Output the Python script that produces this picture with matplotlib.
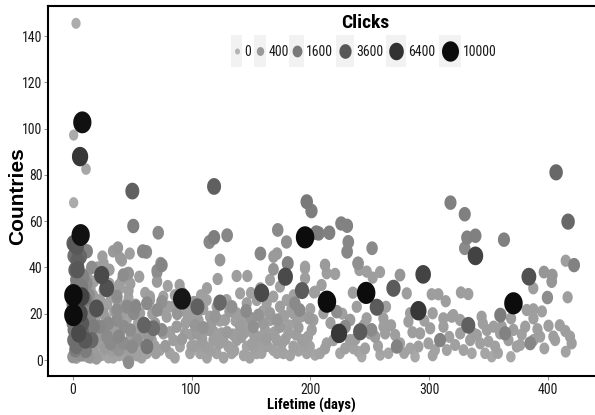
import numpy as np
import matplotlib
matplotlib.use("Agg")
import matplotlib.pyplot as plt
from matplotlib.path import Path
from matplotlib.patches import Rectangle
from matplotlib import font_manager as fm
from matplotlib.font_manager import FontProperties

# ---------------- data ----------------
# highlighted / larger points
days_hi = [2.8, 8.1, 0.8, 6.2, 11.2, 50.2, 0.8, 119, 51, 72, 6.7, 130, 119, 115, 3.4, 0.6, 12, 59, 62, 75,
           71, 4, 24.4, 28.6, 4, 42.6, 47, 0.6, 0.6, 7.6, 6.2, 20, 92, 105, 124, 134, 146, 158, 159, 172.6,
           180, 181, 179, 193, 195.6, 197, 201, 187, 191, 205, 406.9, 417, 422, 399.6, 384, 371, 363, 360, 339, 339,
           332, 330, 330, 318, 333, 295, 291, 270, 247, 256, 240, 252, 232, 231, 226, 231, 214, 224.2, 242, 207,
           216, 60, 68, 62.5, 5, 10.6]
countries_hi = [145.5, 102.7, 97.2, 87.9, 82.5, 73.0, 68.0, 75, 57.9, 55, 54, 53.9, 53, 51, 49, 50.4, 47, 47, 46.7, 41,
                38.6, 43, 36.7, 31, 39, 36.7, 37.5, 28, 19.4, 27.4, 20.2, 22.3, 26.4, 23, 24.8, 23, 21.2, 46, 29, 56.2,
                51, 41.8, 36, 30, 53, 68.4, 64.4, 24.5, 21.6, 55, 81.1, 59.8, 41, 27, 36, 24.5, 52, 19.4, 45, 53.7,
                52.9, 48.3, 63, 68, 15, 37, 21.3, 31, 29, 22.8, 41.8, 48.3, 51, 46.8, 59, 58, 25.2, 11.5, 12.2, 54.7,
                55, 15.1, 13.7, 5.8, 11.5, 8.6]
clicks_hi = [50, 9500, 60, 6000, 120, 3000, 60, 3000, 1300, 900, 9500, 1000, 1400, 1000, 3500, 3000, 1200, 1000, 900, 1100,
             800, 3000, 4500, 4000, 3500, 800, 600, 10000, 10000, 5000, 4500, 4000, 9000, 3000, 2500, 700, 900, 1000, 4500, 900,
             700, 1200, 4500, 3300, 10000, 1600, 1400, 900, 900, 1500, 2500, 2500, 1200, 800, 4000, 10000, 1300, 1500, 5000, 1300,
             1200, 900, 1300, 1300, 3000, 5000, 6000, 3300, 10000, 3300, 700, 900, 1000, 1000, 1200, 1200, 10000, 6000, 3300, 1300,
             1300, 2800, 2200, 1800, 4500, 3500]

# left cluster (lifetime 0-75)
days_left = [2.2, 6.4, 4, 2, 3, 7.8, 10.6, 7.8, 16, 0.8, 2.2, 0, 6.4, 13.4, 20, 17.7, 23, 15, 1, 0,
             2, 12, 14, 9, 16, 1, 0, 3, 11, 8, 13,
             3, 9, 15, 18, 21, 24, 27, 30, 33, 36, 39, 42, 45, 48, 51, 54, 57, 5, 12, 26, 34, 55,
             4, 7, 10, 13, 16, 19, 22, 25, 28, 31, 34, 37, 40, 43, 46, 49, 52, 55,
             5, 8, 11, 14, 17, 20, 23, 26, 29, 32, 35, 38, 41, 44, 47, 50, 53,
             6, 9, 12, 15, 18, 21, 26, 31, 35, 40,
             37.3, 45.7, 51.3, 37.3, 43, 48.5, 28.9, 34.5, 38.7, 54, 47, 30, 31.7, 38.7, 43, 50, 75, 37.3, 53, 62.6,
             71, 75,
             34, 38, 40, 48, 71, 25, 26, 31, 56, 39, 37, 46, 62, 65, 74, 71, 46, 41.5, 48.5, 47, 41.5]
countries_left = [49.7, 44.7, 40.3, 38.9, 34.6, 31.7, 26.6, 15.8, 8.6, 8.6, 4.3, 1.4, 2.2, 1.4, 0.7, 14.4, 14.4, 18.7, 13, 24,
                  31, 33, 28, 36, 40, 45, 16, 6, 4, 12, 22,
                  1, 2, 1, 3, 7, 2, 5, 1, 4, 8, 2, 5, 1, 3, 6, 2, 4, 6, 6, 9, 1, 8,
                  9, 12, 15, 10, 13, 17, 11, 14, 18, 10, 13, 16, 11, 14, 18, 10, 13, 16,
                  22, 25, 20, 24, 28, 21, 26, 20, 24, 27, 21, 25, 20, 23, 27, 21, 24,
                  30, 33, 37, 31, 34, 40, 30, 33, 30, 31,
                  27.4, 23, 20.2, 17.3, 14.4, 13, 10.1, 6.5, 4.3, 8.6, -1, 15.8, 7.2, 10.1, 7.2, 5.8, 13, 21.6, 23, 24.5,
                  21.6, 25.2,
                  47, 48.5, 44, 46, 33.9, 44.7, 41.8, 39, 36, 32.4, 28.8, 24.5, 24.5, 27.4, 41.8, 37.5, 37.5, 34.6, 33, 30, 43]
clicks_left = [3500, 2500, 2500, 2500, 1500, 1500, 1800, 3500, 2500, 2000, 1500, 600, 700, 500, 400, 1500, 1000, 1200, 1800, 1500,
               1200, 900, 800, 1200, 800, 2000, 1600, 2200, 1500, 2500, 900,
               300, 400, 250, 350, 300, 200, 400, 150, 300, 250, 200, 350, 150, 300, 200, 250, 150, 450, 350, 300, 200, 250,
               600, 500, 450, 400, 350, 300, 400, 300, 250, 350, 300, 250, 300, 250, 200, 300, 250, 200,
               600, 500, 450, 400, 300, 350, 300, 400, 250, 200, 300, 250, 300, 250, 200, 250, 200,
               500, 400, 350, 300, 250, 300, 250, 200, 250, 200,
               800, 900, 900, 800, 800, 800, 900, 700, 600, 700, 800, 900, 900, 1000, 800, 900, 900, 800, 1000, 900,
               800, 700,
               400, 500, 400, 300, 400, 300, 300, 300, 300, 300, 300, 300, 300, 300, 500, 400, 300, 300, 300, 300, 300]

# middle band (lifetime 55-205)
days_mid = [56.7, 59.5, 62.3, 66.5, 69.3, 73.5, 76.3, 79.1, 81.9, 84.7, 87.5, 90.3, 94.6, 97.4, 98.8, 84.7, 73.5, 65.1, 76.3, 96,
            107.2, 112.8, 115.6, 121.2, 129.6, 138, 140.9, 146.5, 154.9, 163.3, 168.9, 174.5, 180.1, 185.7, 174.5, 166.1,
            101.6, 104.4, 107.2, 111.4, 114.2, 118.4, 121.2, 125.4, 128.2, 131, 133.8, 138, 140.9, 143.7, 146.5, 152.1, 154.9,
            157.7, 161.9, 166.1, 168.9, 171.7, 174.5, 177.3, 181.5, 185.7, 188.6, 192.8, 197, 201.2, 152.1, 156.3, 166.1, 171.7,
            90, 92, 80.5, 124, 122, 138, 147, 169, 172, 169, 195.6, 195.6, 204,
            64, 70, 78, 86, 92, 100, 103, 109, 113, 117, 123, 127, 130, 136, 142, 149, 151, 159, 163, 170,
            176, 183, 188, 195, 199, 88, 102, 110, 120, 132, 150, 160, 178, 190]
countries_mid = [20.2, 11.5, 2.9, 8.6, 15.8, 4.3, 11.5, 18.7, 2.9, 8.6, 14.4, 5.8, 11.5, 18, 2.9, 23, 21.6, 25.9, 27.4, 20.2,
                 21.6, 25.9, 18.7, 23, 25.9, 20.2, 28.8, 24.5, 25.9, 24.5, 27.4, 23, 25.9, 20.2, 31.7, 34.6,
                 18.7, 11.5, 2.9, 5.8, 13, 8.6, 2.9, 11.5, 17.3, 5.8, 2.9, 8.6, 14.4, 18.7, 5.8, 11.5, 2.9,
                 7.2, 13, 17.3, 4.3, 8.6, 14.4, 2.9, 11.5, 5.8, 17.3, 8.6, 2.9, 13, 14.4, 19.4, 20.2, 17.3,
                 32.4, 29.2, 23, 43.2, 35, 36.3, 36.3, 44.7, 46, 39.2, 40.3, 35.3, 29.5,
                 10, 3, 6, 1, 9, 6, 15, 9, 1, 16, 7, 1, 12, 4, 10, 1, 7, 3, 9, 12,
                 7, 2, 11, 6, 18, 20, 25, 14, 19, 21, 18, 16, 19, 14]
clicks_mid = [300, 400, 200, 300, 400, 200, 300, 300, 200, 300, 400, 200, 300, 300, 200, 300, 300, 250, 250, 300,
              300, 250, 300, 300, 250, 300, 250, 300, 250, 300, 250, 300, 250, 300, 250, 250,
              300, 400, 200, 300, 400, 300, 200, 300, 300, 250, 200, 300, 350, 300, 200, 300, 200,
              250, 300, 300, 200, 300, 400, 200, 300, 250, 300, 300, 200, 300, 700, 600, 400, 500,
              300, 300, 300, 500, 300, 300, 300, 400, 400, 500, 300, 300, 300,
              500, 300, 400, 200, 400, 300, 500, 350, 200, 400, 300, 200, 400, 250, 350, 200, 300, 200, 350, 300,
              250, 200, 300, 250, 400, 500, 400, 600, 500, 400, 500, 400, 300, 350]

# extra points filling the lower band
days_fill = [103, 106, 110, 116, 119, 124, 127, 135, 137, 144, 145, 148, 153, 156, 160, 164, 167, 172, 175, 179,
             182, 184, 190, 193, 198, 200, 186, 158, 150, 113, 108, 98, 86, 82, 69, 58, 61, 67, 80, 100,
             95, 217, 227, 238, 245, 257, 268, 279, 286, 296, 303, 317, 331, 350, 358, 369, 378, 397, 410, 395]
countries_fill = [6, 17, 22, 4, 12, 17, 8, 11, 17, 2, 12, 16, 5, 10, 21, 6, 11, 3, 18, 9,
                  15, 22, 4, 19, 10, 22, 28, 31, 29, 31, 28, 23, 28, 12, 6, 1, 29, 20, 32, 11,
                  16, 16, 20, 9, 15, 6, 15, 3, 12, 17, 2, 10, 15, 8, 3, 18, 11, 5, 15, 21]
clicks_fill = [300, 300, 250, 250, 300, 250, 300, 300, 250, 200, 300, 250, 250, 300, 250, 250, 300, 200, 250, 300,
               250, 250, 200, 300, 300, 250, 250, 300, 250, 300, 250, 300, 300, 300, 300, 200, 250, 300, 250, 300,
               300, 300, 250, 300, 300, 250, 300, 200, 300, 250, 200, 250, 300, 250, 200, 300, 250, 200, 300, 250]

# right band (lifetime 190-425)
days_right = [194.1, 199.7, 204, 208.2, 212.4, 213.8, 219.4, 225, 229.3, 233.5, 236.3, 240.5, 243.3, 246.1, 250.3, 254.5,
              258.8, 261.6, 263, 265.8, 271.4, 272.8, 275.6, 282.6, 284, 288.2, 291, 292.4, 299.4, 305, 309.2, 312.1,
              314.9, 319.1, 321.9, 326.2, 329, 334.6, 336, 340.2, 343, 345.2, 347.1, 352.7, 355.6, 359.8, 361.2, 364,
              366.8, 368.8, 371, 373.8, 376.6, 380.9, 385.1, 387.9, 391.2, 393.5, 400.5, 404.6, 406.1,
              203.1, 209.5, 195.5, 212.4, 213.8, 220.9, 211, 222.2, 202.6, 233.5, 229.3, 235.8, 240.4, 241.3, 239.1, 247.4,
              251.6, 258.7, 252.5, 247.5, 263.7, 261.5, 275.5, 281.2, 284, 302.2, 307.8, 314, 303, 300.9, 312, 320.4,
              326.8, 333, 326.1, 337.2, 344.2, 348.6, 354.3, 382.2, 387.8, 387.8, 396.7, 403.7, 403.2, 387.7, 415, 416.6,
              414.7, 418.6, 420, 415]
countries_right = [8.6, 5.8, 2.2, 2.9, 5, 7.2, 8.6, 2.9, 5, 8.6, 5, 3.6, 1.4, 5, 11.5, 10.1,
                   2.2, 14.4, 11.5, 2.9, 10.8, 5.8, 7.2, 16.6, 5, 1.4, 5.8, 11.5, 7.2, 4.3, 8.6, 14.4,
                   4.3, 18.7, 6.5, 11.5, 4.3, 8.6, 2.9, 10.8, 7.2, 15.8, 2.9, 1.4, 5.8, 11.5, 14.4, 11.5,
                   8.6, 1.4, 13, 5.8, 6.5, 14.4, 7.2, 8.6, 13.3, 10.1, 14.8, 10.1, 8.6,
                   29.2, 32.4, 39.6, 41.1, 37.5, 37.2, 20.2, 20.9, 17.3, 17.3, 14.4, 29.1, 41.8, 38.9, 23, 18,
                   13, 38, 35.6, 38.2, 23, 18, 36.7, 28.8, 20.2, 28.4, 28.4, 25.4, 20.2, 13.7, 18, 19.4,
                   29.2, 28.5, 17.3, 11.5, 18.7, 13, 14.4, 21.6, 21.9, 18, 38, 36.7, 33.9, 31, 42.9, 27.1,
                   12.5, 10.1, 7.2, 3.6]
clicks_right = [300, 200, 150, 200, 300, 250, 300, 150, 250, 300, 200, 150, 100, 250, 300, 400,
                150, 300, 300, 150, 300, 1200, 250, 300, 200, 100, 250, 300, 250, 200, 1200, 300,
                200, 300, 250, 300, 200, 300, 150, 300, 250, 300, 150, 100, 250, 300, 300, 1200,
                300, 100, 300, 250, 250, 300, 1000, 300, 300, 250, 300, 300, 250,
                300, 300, 300, 400, 300, 300, 300, 800, 300, 400, 900, 300, 700, 300, 300, 300,
                900, 300, 300, 300, 300, 300, 500, 300, 300, 300, 300, 300, 300, 300, 300, 300,
                300, 300, 300, 300, 300, 300, 300, 300, 300, 300, 500, 500, 500, 300, 300, 300,
                300, 300, 300, 200]

legend_breaks = [0, 400, 1600, 3600, 6400, 10000]
x_ticks = [0, 100, 200, 300, 400]
y_ticks = [0, 20, 40, 60, 80, 100, 120, 140]
CMAX = 10000.0

# ---------------- fonts ----------------
W, H, DPI = 595, 415, 100


def find_font(keys, bold):
    for f in fm.fontManager.ttflist:
        fn = f.fname.replace("-", "").replace("_", "").lower()
        for k in keys:
            if k in fn:
                isb = "bold" in fn and "semibold" not in fn
                if isb == bold and "italic" not in fn and "oblique" not in fn:
                    return f.fname
    return None


narrow_keys = ["liberationsansnarrow", "robotocondensed", "opensanscondensed", "arialnarrow"]
nf = find_font(narrow_keys, False)
nfb = find_font(narrow_keys, True)
FP_N = FontProperties(fname=nf) if nf else FontProperties(family="Liberation Sans")
FP_NB = FontProperties(fname=nfb) if nfb else FontProperties(family="Liberation Sans", weight="bold")
NARROW_OK = nf is not None


def gray_of(c):
    s = np.sqrt(np.clip(np.asarray(c, float), 0, CMAX) / CMAX)
    g = (180 - 168 * s ** 1.15) / 255.0
    return np.stack([g, g, g], axis=-1)


def plot_height_px(c):
    s = np.sqrt(np.clip(np.asarray(c, float), 0, CMAX) / CMAX)
    return 1.2 * (8.5 + 10.0 * s)


def legend_width_px(c):
    s = np.sqrt(c / CMAX)
    return 5.0 + 12.0 * s


t = np.linspace(0, 2 * np.pi, 64)
ellipse = Path(np.column_stack([np.cos(t) / 1.2, np.sin(t)]), closed=True)
px2pt = 72.0 / DPI

# ---------------- figure ----------------
fig = plt.figure(figsize=(W / DPI, H / DPI), dpi=DPI)
fig.patch.set_facecolor("white")
ax_l, ax_r, ax_t, ax_b = 48, 595, 6, 376
ax = fig.add_axes([ax_l / W, 1 - ax_b / H, (ax_r - ax_l) / W, (ax_b - ax_t) / H])

days = np.array(days_hi + days_left + days_mid + days_fill + days_right, float)
countries = np.array(countries_hi + countries_left + countries_mid + countries_fill + countries_right, float)
clicks = np.array(clicks_hi + clicks_left + clicks_mid + clicks_fill + clicks_right, float)
order = np.argsort(clicks, kind="stable")
days, countries, clicks = days[order], countries[order], clicks[order]

sizes = (plot_height_px(clicks) * px2pt) ** 2
ax.scatter(days, countries, s=sizes, c=gray_of(clicks), marker=ellipse,
           linewidths=0, zorder=3)

x0_px, x_per = 72.7, 1.188
y0_px, y_per = 360.0, 2.314
ax.set_xlim((ax_l - x0_px) / x_per, (ax_r - x0_px) / x_per)
ax.set_ylim((y0_px - ax_b) / y_per, (y0_px - ax_t) / y_per)
ax.set_xticks(x_ticks)
ax.set_yticks(y_ticks)
for sp in ["left", "bottom", "top"]:
    ax.spines[sp].set_linewidth(1.5)
    ax.spines[sp].set_color("black")
ax.spines["right"].set_visible(False)
tick_fs = 10 if NARROW_OK else 9.3
ax.tick_params(direction="out", length=2.7, width=0.7, color="#8c8c8c",
               labelcolor="#1a1a1a")
ax.tick_params(axis="x", pad=2.0)
ax.tick_params(axis="y", pad=1.2)
for lab in ax.get_xticklabels() + ax.get_yticklabels():
    lab.set_fontproperties(FP_N)
    lab.set_fontsize(tick_fs)

fig.text(311.5 / W, 1 - 405 / H, "Lifetime (days)", ha="center", va="center",
         fontproperties=FP_NB, fontsize=10.5 if NARROW_OK else 9.5, color="black")
fig.text(17.5 / W, 1 - 196 / H, "Countries", ha="center", va="center", rotation=90,
         fontsize=15, fontweight="bold", family="Liberation Sans", color="black")

# ---------------- legend ----------------
lax = fig.add_axes([0, 0, 1, 1], zorder=10)
lax.set_xlim(0, W)
lax.set_ylim(H, 0)
lax.axis("off")
lax.text(365.7, 22.5, "Clicks", ha="center", va="center",
         fontproperties=FP_NB, fontsize=14 if NARROW_OK else 13, color="black")
key_cx = [236.7, 260.0, 296.7, 345.0, 395.7, 450.0]
key_cy, key_top, key_bot = 51.5, 35, 67
leg_fs = 10 if NARROW_OK else 8.8
for cx, b in zip(key_cx, legend_breaks):
    w = legend_width_px(b)
    bw = w + 5.5
    lax.add_patch(Rectangle((cx - bw / 2, key_top), bw, key_bot - key_top,
                            facecolor="#f2f2f2", edgecolor="none", zorder=1))
    lax.scatter([cx], [key_cy], s=[(1.2 * w * px2pt) ** 2], c=gray_of([b]),
                marker=ellipse, linewidths=0, zorder=2)
    lax.text(cx + bw / 2 + 2.0, key_cy + 0.5, str(b), ha="left", va="center",
             fontproperties=FP_N, fontsize=leg_fs, color="#1a1a1a")

fig.savefig("out.png", dpi=DPI, facecolor="white")
